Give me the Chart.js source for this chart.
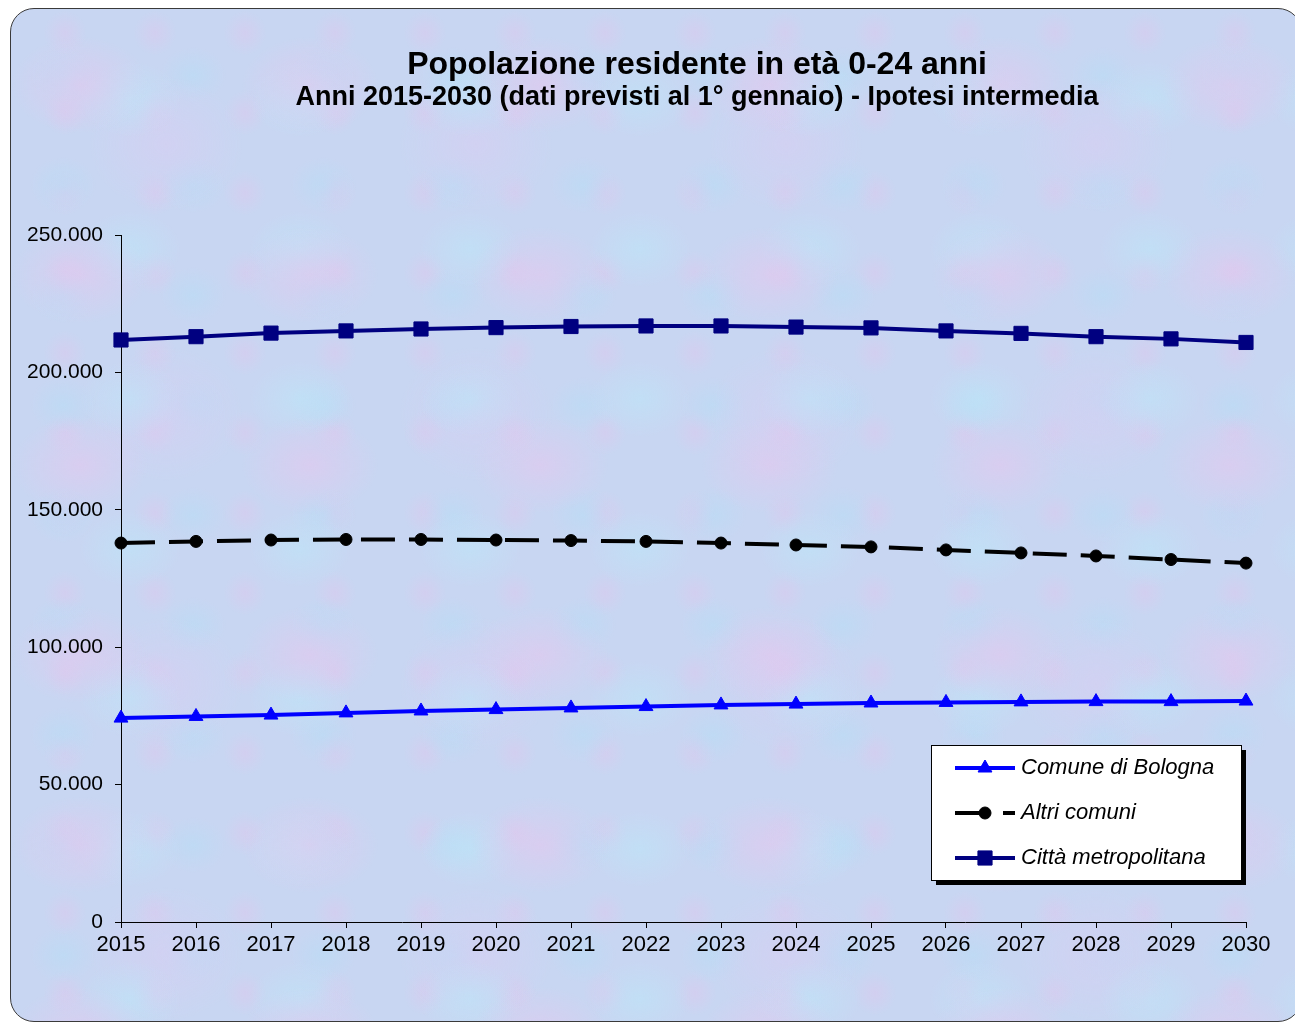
<!DOCTYPE html>
<html>
<head>
<meta charset="utf-8">
<script src="https://cdn.jsdelivr.net/npm/chart.js@4.4.1/dist/chart.umd.min.js"></script>
<style>
  html, body { margin: 0; padding: 0; background: #ffffff; overflow: hidden; }
  #wrap { position: relative; width: 1295px; height: 1022px; }
  #frame {
    position: absolute; left: 10px; top: 8px; width: 1290px; height: 1012px;
    border: 1.5px solid #3a3a3a; border-radius: 24px;
    background-color: #c8d6f2;
    background-image:
      radial-gradient(ellipse at 30% 40%, rgba(230, 198, 238, 0.55) 0, rgba(230, 198, 238, 0) 30%),
      radial-gradient(ellipse at 70% 60%, rgba(188, 230, 248, 0.55) 0, rgba(188, 230, 248, 0) 30%),
      radial-gradient(ellipse at 50% 50%, rgba(218, 204, 242, 0.5) 0, rgba(218, 204, 242, 0) 35%),
      radial-gradient(ellipse at 40% 60%, rgba(180, 222, 246, 0.45) 0, rgba(180, 222, 246, 0) 30%),
      radial-gradient(ellipse at 60% 30%, rgba(226, 196, 236, 0.4) 0, rgba(226, 196, 236, 0) 28%);
    background-size: 230px 190px, 170px 150px, 310px 270px, 130px 110px, 90px 80px;
  }
  canvas { position: absolute; left: 0; top: 0; }
</style>
</head>
<body>
<div id="wrap">
  <div id="frame"></div>
  <canvas id="chart" width="1295" height="1022"></canvas>
</div>
<script>
// Dati (popolazione 0-24 anni, ipotesi intermedia)
const years = ['2015', '2016', '2017', '2018', '2019', '2020', '2021', '2022',
               '2023', '2024', '2025', '2026', '2027', '2028', '2029', '2030'];
const comuneBologna = [74200, 74800, 75300, 76100, 76800, 77300, 77900, 78400,
                       79000, 79300, 79700, 79900, 80100, 80200, 80200, 80400];
const altriComuni = [137900, 138500, 139000, 139200, 139200, 139000, 138800, 138500,
                     137900, 137200, 136500, 135400, 134300, 133200, 131900, 130600];
const cittaMetropolitana = [211800, 213000, 214300, 215100, 215800, 216300, 216700, 216900,
                            216900, 216500, 216200, 215100, 214200, 213000, 212200, 210900];
const yTicks = [0, 50000, 100000, 150000, 200000, 250000];

const titleText = 'Popolazione residente in età 0-24 anni';
const subtitleText = 'Anni 2015-2030 (dati previsti al 1° gennaio) - Ipotesi intermedia';

const FONT = '"Liberation Sans", Arial, sans-serif';

function formatIt(v) {
    return String(v).replace(/\B(?=(\d{3})+(?!\d))/g, '.');
}

// Titolo disegnato a mano per centrarlo come nell'originale
const titlePlugin = {
    id: 'titoli',
    afterDraw(chart) {
        const ctx = chart.ctx;
        ctx.save();
        ctx.fillStyle = '#000';
        ctx.textAlign = 'center';
        ctx.textBaseline = 'middle';
        ctx.font = 'bold 32px ' + FONT;
        ctx.fillText(titleText, 697, 65);
        ctx.font = 'bold 27px ' + FONT;
        ctx.fillText(subtitleText, 697, 98);
        ctx.restore();
    }
};

// Legenda con riquadro bianco e ombra
const legendPlugin = {
    id: 'legendaBox',
    afterDraw(chart) {
        const ctx = chart.ctx;
        const x = 931, y = 745, w = 310, h = 135;
        ctx.save();
        ctx.fillStyle = '#000';
        ctx.fillRect(x + 5, y + 5, w, h);
        ctx.fillStyle = '#fff';
        ctx.fillRect(x, y, w, h);
        ctx.strokeStyle = '#000';
        ctx.lineWidth = 1;
        ctx.strokeRect(x + 0.5, y + 0.5, w, h);

        chart.data.datasets.forEach((ds, i) => {
            const cy = 768 + i * 45;
            ctx.save();
            ctx.strokeStyle = ds.borderColor;
            ctx.lineWidth = ds.borderWidth;
            ctx.setLineDash(ds.borderDash || []);
            ctx.beginPath();
            ctx.moveTo(955, cy);
            ctx.lineTo(1015, cy);
            ctx.stroke();
            ctx.restore();

            ctx.save();
            ctx.fillStyle = ds.pointBackgroundColor;
            ctx.strokeStyle = ds.pointBorderColor;
            ctx.lineWidth = ds.pointBorderWidth;
            ctx.setLineDash([]);
            Chart.helpers.drawPoint(ctx, {
                pointStyle: ds.pointStyle,
                radius: ds.pointRadius,
                borderWidth: ds.pointBorderWidth
            }, 985, cy);
            ctx.restore();

            ctx.fillStyle = '#000';
            ctx.font = 'italic 22px ' + FONT;
            ctx.textAlign = 'left';
            ctx.textBaseline = 'middle';
            ctx.fillText(ds.label, 1021, cy);
        });
        ctx.restore();
    }
};

const ctx = document.getElementById('chart');

new Chart(ctx, {
    type: 'line',
    data: {
        labels: years,
        datasets: [{
            label: 'Comune di Bologna',
            data: comuneBologna,
            borderColor: '#0000ff',
            backgroundColor: '#0000ff',
            borderWidth: 4,
            pointStyle: 'triangle',
            pointRadius: 8,
            pointBackgroundColor: '#0000ff',
            pointBorderColor: '#0000ff',
            pointBorderWidth: 1,
            tension: 0
        }, {
            label: 'Altri comuni',
            data: altriComuni,
            borderColor: '#000000',
            backgroundColor: '#000000',
            borderWidth: 4,
            borderDash: [34, 14],
            pointStyle: 'circle',
            pointRadius: 6,
            pointBackgroundColor: '#000000',
            pointBorderColor: '#000000',
            pointBorderWidth: 1,
            tension: 0
        }, {
            label: 'Città metropolitana',
            data: cittaMetropolitana,
            borderColor: '#000080',
            backgroundColor: '#000080',
            borderWidth: 4,
            pointStyle: 'rect',
            pointRadius: 10,
            pointBackgroundColor: '#000080',
            pointBorderColor: '#000080',
            pointBorderWidth: 1,
            tension: 0
        }]
    },
    options: {
        responsive: false,
        animation: false,
        layout: {
            padding: { top: 235, right: 49, bottom: 0, left: 0 }
        },
        plugins: {
            legend: { display: false },
            tooltip: { enabled: false },
            title: { display: false }
        },
        scales: {
            x: {
                offset: false,
                grid: {
                    display: true,
                    drawOnChartArea: false,
                    drawTicks: true,
                    tickLength: 6,
                    tickColor: '#000',
                    offset: false
                },
                border: { display: true, color: '#000', width: 1 },
                ticks: {
                    color: '#000',
                    font: { family: FONT, size: 22 },
                    maxRotation: 0,
                    autoSkip: false,
                    padding: 4
                },
                afterFit(scale) { scale.height = 100; }
            },
            y: {
                min: 0,
                max: 250000,
                afterBuildTicks(scale) {
                    scale.ticks = yTicks.map(v => ({ value: v }));
                },
                grid: {
                    display: true,
                    drawOnChartArea: false,
                    drawTicks: true,
                    tickLength: 6,
                    tickColor: '#000'
                },
                border: { display: true, color: '#000', width: 1 },
                ticks: {
                    color: '#000',
                    font: { family: FONT, size: 21 },
                    padding: 12,
                    callback: value => formatIt(value)
                },
                afterFit(scale) { scale.width = 121; }
            }
        }
    },
    plugins: [titlePlugin, legendPlugin]
});
</script>
</body>
</html>
